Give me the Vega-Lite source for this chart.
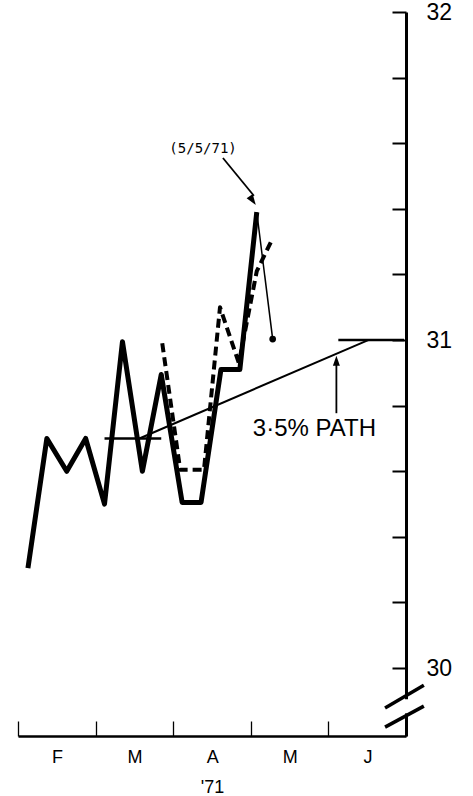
{
  "$schema": "https://vega.github.io/schema/vega-lite/v6.json",
  "width": 388,
  "height": 724,
  "autosize": {"type": "none"},
  "padding": {"left": 18, "top": 12, "right": 67, "bottom": 60},
  "background": "white",
  "config": {"view": {"stroke": null}, "font": "Liberation Sans"},
  "datasets": {
    "actual": [
      {"m": 0.128, "v": 30.305}, {"m": 0.372, "v": 30.70}, {"m": 0.628, "v": 30.60},
      {"m": 0.872, "v": 30.70}, {"m": 1.115, "v": 30.50}, {"m": 1.346, "v": 30.995},
      {"m": 1.603, "v": 30.60}, {"m": 1.846, "v": 30.895}, {"m": 2.115, "v": 30.505},
      {"m": 2.359, "v": 30.505}, {"m": 2.615, "v": 30.91}, {"m": 2.859, "v": 30.91},
      {"m": 3.077, "v": 31.39}
    ],
    "dashed": [
      {"m": 1.859, "v": 30.99}, {"m": 2.09, "v": 30.605}, {"m": 2.397, "v": 30.605},
      {"m": 2.603, "v": 31.10}, {"m": 2.846, "v": 30.93}, {"m": 3.077, "v": 31.21},
      {"m": 3.282, "v": 31.31}
    ],
    "proj": [{"m": 3.077, "v": 31.39}, {"m": 3.282, "v": 31.003}],
    "path": [{"m": 1.564, "v": 30.70}, {"m": 4.513, "v": 31.0}],
    "levels": [
      {"m": 1.115, "m2": 1.846, "v": 30.70},
      {"m": 4.128, "m2": 4.974, "v": 31.0}
    ],
    "shafts": [
      {"m": 2.641, "v": 31.555, "m2": 3.04, "v2": 31.44},
      {"m": 4.103, "v": 30.777, "m2": 4.103, "v2": 30.93}
    ],
    "slashes": [
      {"m": 4.73, "v": 29.878, "m2": 5.23, "v2": 29.948},
      {"m": 4.73, "v": 29.820, "m2": 5.23, "v2": 29.884}
    ]
  },
  "encoding": {
    "x": {
      "field": "m", "type": "quantitative",
      "scale": {"domain": [0, 5], "nice": false, "zero": false},
      "axis": {
        "orient": "bottom",
        "values": [0, 1, 2, 3, 4, 5],
        "labelExpr": "['F','M','A','M','J',''][datum.value]",
        "tickSize": -15, "tickWidth": 1.3, "tickColor": "black",
        "domainWidth": 2.5, "domainColor": "black",
        "labelOffset": 39, "labelPadding": 27, "labelFontSize": 18,
        "labelColor": "black", "labelFlush": false, "labelOverlap": false, "labelBound": false,
        "grid": false,
        "title": "'71", "titleFontSize": 18, "titleFontWeight": "normal", "titleColor": "black",
        "titlePadding": 12
      }
    },
    "y": {
      "field": "v", "type": "quantitative",
      "scale": {"domain": [29.793, 32], "nice": false, "zero": false},
      "axis": {
        "orient": "right",
        "values": [30, 30.2, 30.4, 30.6, 30.8, 31, 31.2, 31.4, 31.6, 31.8, 32],
        "labelExpr": "abs(datum.value - round(datum.value)) < 0.01 ? format(datum.value, 'd') : ''",
        "tickSize": -14, "tickWidth": 2, "tickColor": "black",
        "domainWidth": 3, "domainColor": "black",
        "labelPadding": 34, "labelFontSize": 23, "labelAlign": "left",
        "labelColor": "black", "labelFlush": false, "labelOverlap": false, "labelBound": false,
        "grid": false, "title": null
      }
    }
  },
  "layer": [
    {"data": {"name": "path"}, "mark": {"type": "line", "color": "black", "strokeWidth": 2}},
    {"data": {"name": "levels"}, "mark": {"type": "rule", "color": "black", "strokeWidth": 2.5},
     "encoding": {"x2": {"field": "m2"}}},
    {"data": {"name": "dashed"}, "mark": {"type": "line", "color": "black", "strokeWidth": 4, "strokeDash": [9, 5], "strokeJoin": "round"}},
    {"data": {"name": "actual"}, "mark": {"type": "line", "color": "black", "strokeWidth": 5, "strokeJoin": "round"}},
    {"data": {"name": "proj"}, "mark": {"type": "line", "color": "black", "strokeWidth": 1.5}},
    {"data": {"values": [{"m": 3.282, "v": 31.003}]}, "mark": {"type": "point", "filled": true, "color": "black", "size": 45, "opacity": 1}},
    {"data": {"name": "shafts"}, "mark": {"type": "rule", "color": "black", "strokeWidth": 1.8},
     "encoding": {"x2": {"field": "m2"}, "y2": {"field": "v2"}}},
    {"data": {"values": [{"m": 3.064, "v": 31.412}]}, "mark": {"type": "point", "filled": true, "color": "black", "opacity": 1, "shape": "M0,0L-0.35,1L0.35,1Z", "size": 450, "angle": 145}},
    {"data": {"values": [{"m": 4.103, "v": 30.952}]}, "mark": {"type": "point", "filled": true, "color": "black", "opacity": 1, "shape": "M0,0L-0.35,1L0.35,1Z", "size": 400, "angle": 0}},
    {"data": {"values": [{"m": 2.385, "v": 31.582, "t": "(5/5/71)"}]},
     "mark": {"type": "text", "font": "DejaVu Sans Mono", "fontSize": 14, "align": "center", "baseline": "middle", "color": "black"},
     "encoding": {"text": {"field": "t"}}},
    {"data": {"values": [{"m": 3.82, "v": 30.729, "t": "3·5% PATH"}]},
     "mark": {"type": "text", "fontSize": 24, "align": "center", "baseline": "middle", "color": "black"},
     "encoding": {"text": {"field": "t"}}},
    {"data": {"values": [{"m": 5, "v": 29.862, "v2": 29.905}]}, "mark": {"type": "rule", "color": "white", "strokeWidth": 6},
     "encoding": {"y2": {"field": "v2"}}},
    {"data": {"name": "slashes"}, "mark": {"type": "rule", "color": "black", "strokeWidth": 3.5},
     "encoding": {"x2": {"field": "m2"}, "y2": {"field": "v2"}}}
  ]
}
